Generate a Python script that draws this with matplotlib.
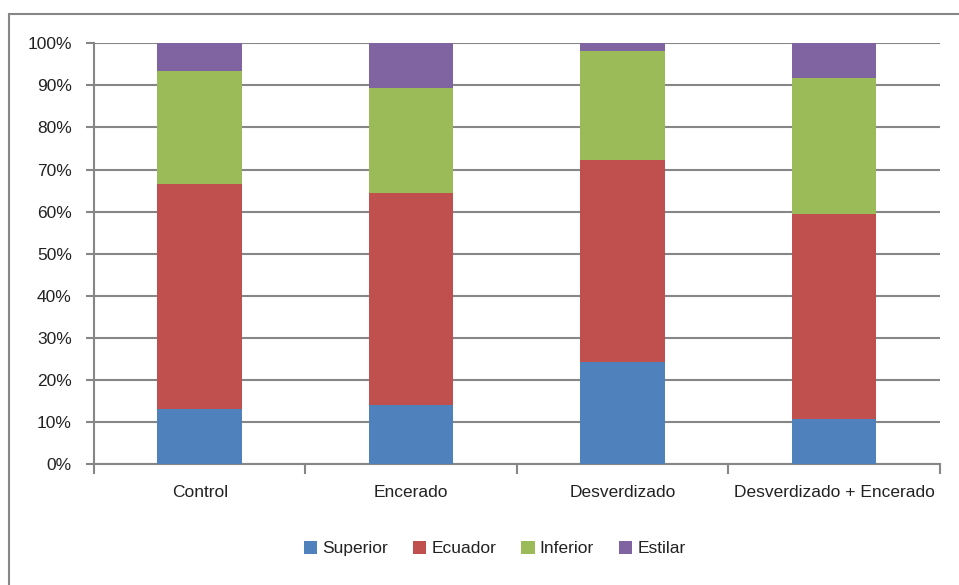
import matplotlib.pyplot as plt
import numpy as np
from matplotlib.patches import Rectangle
from matplotlib.ticker import FixedLocator, PercentFormatter

plt.rcParams["font.family"] = ["Liberation Sans", "DejaVu Sans"]

categories = ["Control", "Encerado", "Desverdizado", "Desverdizado + Encerado"]
superior = [13.2, 14.1, 24.2, 10.8]
ecuador = [53.3, 50.3, 48.1, 48.7]
inferior = [26.8, 24.9, 25.9, 32.2]
estilar = [6.7, 10.7, 1.8, 8.3]

series = [
    ("Superior", superior, "#4f81bd"),
    ("Ecuador", ecuador, "#c0504d"),
    ("Inferior", inferior, "#9bbb59"),
    ("Estilar", estilar, "#8064a2"),
]

fig = plt.figure(figsize=(9.59, 5.85), dpi=100)
ax = fig.add_axes([0.098, 0.2063, 0.882, 0.7197])

# chart frame (open on the right and bottom)
fig.patches.append(Rectangle((9 / 959, -0.1), 1.2, 1 - 14 / 585 + 0.1,
                             transform=fig.transFigure, fill=False,
                             edgecolor="#868686", linewidth=1.5))

x = np.arange(len(categories))
bottom = np.zeros(len(categories))
for name, vals, color in series:
    ax.bar(x, vals, width=0.4, bottom=bottom, color=color, label=name,
           edgecolor="none", zorder=3)
    bottom += np.array(vals)

ax.set_xlim(-0.5, 3.5)
ax.set_ylim(0, 100)
ax.set_yticks(np.arange(0, 101, 10))
ax.yaxis.set_major_formatter(PercentFormatter(decimals=0))
ax.grid(axis="y", color="#868686", linewidth=1.5, zorder=0)
ax.set_axisbelow(True)

ax.set_xticks(x)
ax.set_xticklabels(categories)
ax.xaxis.set_minor_locator(FixedLocator(np.arange(-0.5, 3.6, 1.0)))
ax.tick_params(axis="x", which="major", length=0, pad=15, labelsize=12.5,
               labelcolor="#222222")
ax.tick_params(axis="x", which="minor", length=7, width=1.5, color="#868686")
ax.tick_params(axis="y", length=6, width=1.5, color="#868686", labelsize=12.5,
               pad=10, labelcolor="#222222")

for side in ["top", "right"]:
    ax.spines[side].set_visible(False)
for side in ["left", "bottom"]:
    ax.spines[side].set_color("#868686")
    ax.spines[side].set_linewidth(1.5)

leg = fig.legend(loc="center", bbox_to_anchor=(0.516, 0.062), ncol=4, frameon=False,
                 fontsize=12.5, handlelength=0.75, handleheight=0.75,
                 handletextpad=0.3, columnspacing=1.45)
for t in leg.get_texts():
    t.set_color("#222222")

fig.savefig("out.png", dpi=100)
